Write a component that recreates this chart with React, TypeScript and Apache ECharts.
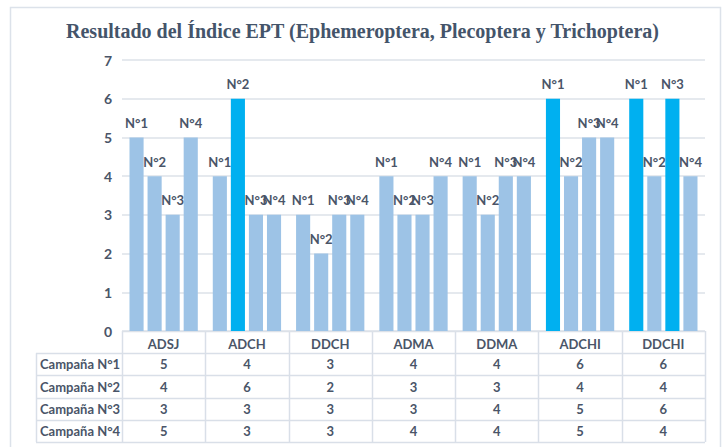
import React, { useEffect, useRef } from "react";
import * as echarts from "echarts";

const categories = ["ADSJ", "ADCH", "DDCH", "ADMA", "DDMA", "ADCHI", "DDCHI"];
const seriesNames = ["Campaña N°1", "Campaña N°2", "Campaña N°3", "Campaña N°4"];
const barLabels = ["N°1", "N°2", "N°3", "N°4"];
const campana1 = [5, 4, 3, 4, 4, 6, 6];
const campana2 = [4, 6, 2, 3, 3, 4, 4];
const campana3 = [3, 3, 3, 3, 4, 5, 6];
const campana4 = [5, 3, 3, 4, 4, 5, 4];
const seriesValues = [campana1, campana2, campana3, campana4];
const highlightValue = 6;
const yTicks = [0, 1, 2, 3, 4, 5, 6, 7];

const W = 725;
const H = 447;
const GL = 122;
const GR = 705;
const GT = 60;
const GB = 331;
const ROW = 22.2;
const TABLE_LEFT = 36;
const TEXT = "#4A5568";
const LINE = "#D9DFE8";
const LIGHT = "#9DC3E6";
const BRIGHT = "#00B0F0";
const FONT = "Lato, 'Open Sans', sans-serif";

export default function App() {
  const ref = useRef<HTMLDivElement>(null);
  useEffect(() => {
    if (!ref.current) return;
    const chart = echarts.init(ref.current, null, { renderer: "svg" });
    const cellW = (GR - GL) / categories.length;
    const nRows = seriesNames.length;
    const tableBottom = GB + ROW * (nRows + 1);
    const graphic: any[] = [];
    graphic.push({
      type: "rect",
      shape: { x: 10.5, y: 7.5, width: 710, height: 470 },
      style: { fill: "none", stroke: "#DCE2EA", lineWidth: 1.5 },
      silent: true,
    });
    for (let r = 1; r <= nRows + 1; r++) {
      const y = Math.round(GB + ROW * r) + 0.5;
      graphic.push({
        type: "line",
        shape: { x1: TABLE_LEFT, y1: y, x2: GR, y2: y },
        style: { stroke: LINE, lineWidth: 1.5 },
      });
    }
    graphic.push({
      type: "line",
      shape: { x1: GL, y1: GB + 0.5, x2: GR, y2: GB + 0.5 },
      style: { stroke: LINE, lineWidth: 1.5 },
    });
    graphic.push({
      type: "line",
      shape: { x1: TABLE_LEFT + 0.5, y1: GB + ROW, x2: TABLE_LEFT + 0.5, y2: tableBottom },
      style: { stroke: LINE, lineWidth: 1.5 },
    });
    for (let c = 0; c <= categories.length; c++) {
      const x = Math.round(GL + cellW * c) + 0.5;
      graphic.push({
        type: "line",
        shape: { x1: x, y1: GB, x2: x, y2: tableBottom },
        style: { stroke: LINE, lineWidth: 1.5 },
      });
    }
    seriesNames.forEach((name, r) => {
      const cy = GB + ROW * (r + 1) + ROW / 2;
      graphic.push({
        type: "text",
        x: TABLE_LEFT + 4,
        y: cy,
        style: {
          text: name,
          fill: TEXT,
          font: `bold 13px ${FONT}`,
          verticalAlign: "middle",
          align: "left",
        },
      });
      seriesValues[r].forEach((v, c) => {
        graphic.push({
          type: "text",
          x: GL + cellW * (c + 0.5),
          y: cy,
          style: {
            text: String(v),
            fill: TEXT,
            font: `bold 13px ${FONT}`,
            verticalAlign: "middle",
            align: "center",
          },
        });
      });
    });

    chart.setOption({
      animation: false,
      title: {
        text: "Resultado del Índice EPT (Ephemeroptera, Plecoptera y Trichoptera)",
        left: "center",
        top: 16,
        textStyle: {
          fontFamily: "'Liberation Serif', 'Times New Roman', serif",
          fontWeight: "bold",
          fontSize: 20,
          color: "#44546A",
        },
      },
      grid: { left: GL, right: W - GR, top: GT, bottom: H - GB },
      xAxis: {
        type: "category",
        data: categories,
        axisLine: { show: false },
        axisTick: { show: false },
        axisLabel: {
          color: TEXT,
          fontWeight: "bold",
          fontSize: 13,
          fontFamily: FONT,
          margin: 6,
        },
      },
      yAxis: {
        type: "value",
        min: yTicks[0],
        max: yTicks[yTicks.length - 1],
        interval: 1,
        axisLabel: {
          color: TEXT,
          fontWeight: "bold",
          fontSize: 14,
          fontFamily: FONT,
          margin: 10,
        },
        splitLine: { lineStyle: { color: "#DDE2E9", width: 1.5 } },
      },
      series: seriesValues.map((vals, i) => ({
        type: "bar",
        name: seriesNames[i],
        data: vals.map((v) => ({
          value: v,
          itemStyle: { color: v === highlightValue ? BRIGHT : LIGHT },
        })),
        barGap: "28%",
        barCategoryGap: "18%",
        label: {
          show: true,
          position: "top",
          distance: 8,
          formatter: barLabels[i],
          color: TEXT,
          fontWeight: "bold",
          fontSize: 13,
          fontFamily: FONT,
        },
      })),
      graphic,
    });
    return () => chart.dispose();
  }, []);
  return (
    <div
      ref={ref}
      style={{ position: "fixed", left: 0, top: 0, width: W, height: H, background: "#fff" }}
    />
  );
}
